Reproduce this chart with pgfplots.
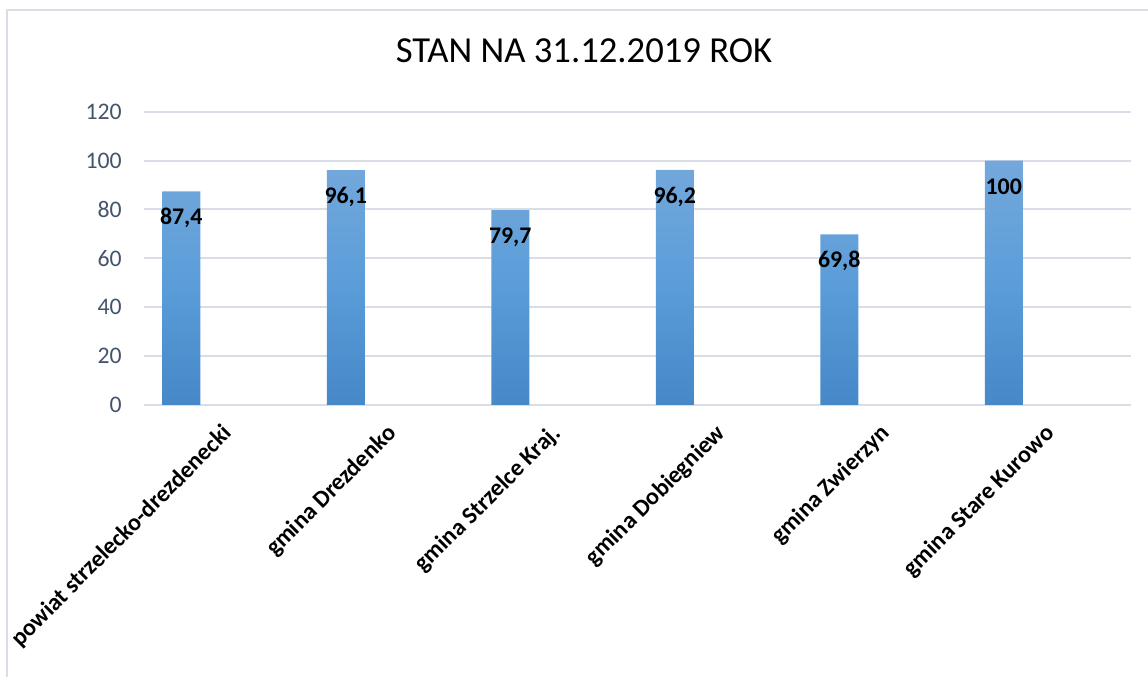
\documentclass[border=0pt]{standalone}
\usepackage{pgfplots}
\pgfplotsset{compat=1.18}
\usepackage{fontspec}
\setmainfont{Carlito}
\definecolor{tickc}{RGB}{68,84,106}
\definecolor{gridc}{RGB}{217,222,230}
\definecolor{bartop}{RGB}{116,168,219}
\definecolor{barmid}{RGB}{91,157,217}
\definecolor{barbot}{RGB}{70,136,200}
\pgfplotstableread{
x y lab
0 87.4 87,4
1 96.1 96,1
2 79.7 79,7
3 96.2 96,2
4 69.8 69,8
5 100 100
}\datatable
\begin{document}
\begin{tikzpicture}[x=0.75pt,y=0.75pt]
\path[use as bounding box] (0,0) rectangle (1148,677);
\begin{scope}
\clip (0,0) rectangle (1148,677);
\draw[gridc, line width=1.5pt] (7,-20) -- (7,667) -- (1170,667);
\end{scope}
\node[anchor=base, font=\fontsize{27.5}{32}\selectfont] at (584,614.3) {STAN NA 31.12.2019 ROK};
\begin{axis}[
  at={(108pt,204pt)}, anchor=south west,
  scale only axis, width=740.25pt, height=220pt,
  xmin=-0.5, xmax=5.5, ymin=0, ymax=120,
  ytick={0,20,...,120},
  xtick={0,...,5},
  xticklabels={powiat strzelecko-drezdenecki, gmina Drezdenko, gmina Strzelce Kraj., gmina Dobiegniew, gmina Zwierzyn, gmina Stare Kurowo},
  ymajorgrids, grid style={gridc, line width=1.5pt},
  axis line style={draw=none},
  major tick length=0pt,
  /pgf/number format/assume math mode=true,
  yticklabel style={font=\fontsize{17.8}{20}\selectfont, text=tickc, anchor=east, inner sep=0pt, xshift=-16.5pt},
  xticklabel style={font=\bfseries\fontsize{18}{20}\selectfont, xshift=-4pt, yshift=2pt, rotate=45, anchor=north east, inner sep=0pt},
  xticklabel shift=15pt,
  clip=false,
]
\draw[gridc, line width=1.5pt] (axis cs:-0.5,0) -- (axis cs:5.5,0);
\addplot[ybar, bar width=28.5pt, bar shift=-33.75pt, draw=none,
  top color=bartop, bottom color=barbot, middle color=barmid,
  nodes near coords, point meta=explicit symbolic,
  every node near coord/.style={font=\bfseries\fontsize{17.9}{20}\selectfont, text=black, anchor=center, xshift=-33.75pt, yshift=-20pt}]
  table[x=x, y=y, meta=lab] {\datatable};
\end{axis}
\end{tikzpicture}
\end{document}
